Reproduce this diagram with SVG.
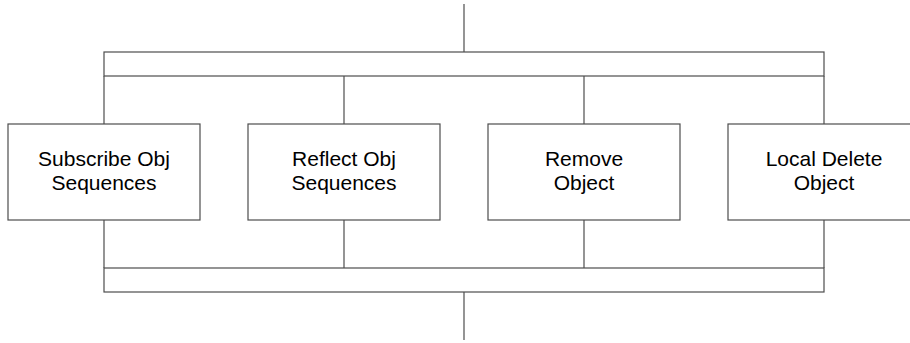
<svg xmlns="http://www.w3.org/2000/svg" width="910" height="343" viewBox="0 0 910 343">
<style>
.ln{fill:none;stroke:#4d4d4d;stroke-width:1.2}
.bx{fill:#fff;stroke:#4d4d4d;stroke-width:1.2}
.t{font-family:"Liberation Sans",Arial,sans-serif;font-size:21px;fill:#000;text-anchor:middle}
</style>
<rect width="910" height="343" fill="#fff"/>
<g id="connectors">
<line class="ln" x1="464" y1="4" x2="464" y2="52"/>
<rect class="ln" x="104" y="52" width="720" height="24"/>
<line class="ln" x1="104" y1="76" x2="104" y2="124"/>
<line class="ln" x1="344" y1="76" x2="344" y2="124"/>
<line class="ln" x1="584" y1="76" x2="584" y2="124"/>
<line class="ln" x1="824" y1="76" x2="824" y2="124"/>
<line class="ln" x1="104" y1="220" x2="104" y2="268"/>
<line class="ln" x1="344" y1="220" x2="344" y2="268"/>
<line class="ln" x1="584" y1="220" x2="584" y2="268"/>
<line class="ln" x1="824" y1="220" x2="824" y2="268"/>
<rect class="ln" x="104" y="268" width="720" height="24"/>
<line class="ln" x1="464" y1="292" x2="464" y2="340"/>
</g>
<g id="n1">
<rect class="bx" x="8" y="124" width="192" height="96"/>
<text class="t" x="104" y="166">Subscribe Obj</text>
<text class="t" x="104" y="190">Sequences</text>
</g>
<g id="n2">
<rect class="bx" x="248" y="124" width="192" height="96"/>
<text class="t" x="344" y="166">Reflect Obj</text>
<text class="t" x="344" y="190">Sequences</text>
</g>
<g id="n3">
<rect class="bx" x="488" y="124" width="192" height="96"/>
<text class="t" x="584" y="166">Remove</text>
<text class="t" x="584" y="190">Object</text>
</g>
<g id="n4">
<rect class="bx" x="728" y="124" width="192" height="96"/>
<text class="t" x="824" y="166">Local Delete</text>
<text class="t" x="824" y="190">Object</text>
</g>
</svg>
